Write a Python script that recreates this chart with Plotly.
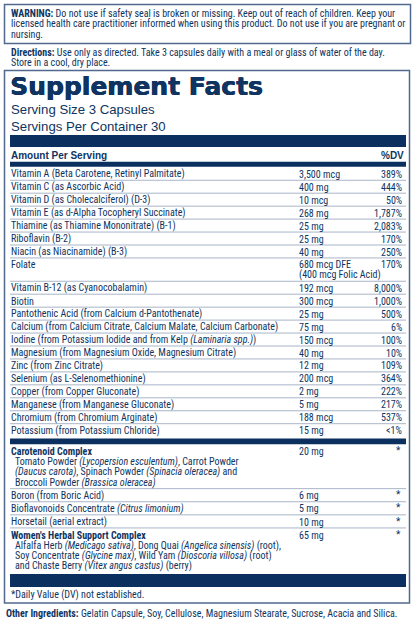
import plotly.graph_objects as go

W, H = 416, 622
NAVY = "#0f3461"
BAR = "#0b3060"
BORDER = "#51698f"
RULE = "#a9b5c8"
NARROW = "Roboto Condensed, DejaVu Sans Condensed, sans-serif"
WIDE = "Liberation Sans, Arial, sans-serif"

# label text
warning_lines = [
    "<b>WARNING:</b> Do not use if safety seal is broken or missing. Keep out of reach of children. Keep your",
    "licensed health care practitioner informed when using this product. Do not use if you are pregnant or",
    "nursing.",
]
direction_lines = [
    "<b>Directions:</b> Use only as directed. Take 3 capsules daily with a meal or glass of water of the day.",
    "Store in a cool, dry place.",
]
title = "Supplement Facts"
serving_lines = ["Serving Size 3 Capsules", "Servings Per Container 30"]
header_left = "Amount Per Serving"
header_right = "%DV"

nutrients = [
    "Vitamin A (Beta Carotene, Retinyl Palmitate)",
    "Vitamin C (as Ascorbic Acid)",
    "Vitamin D (as Cholecalciferol) (D-3)",
    "Vitamin E (as d-Alpha Tocopheryl Succinate)",
    "Thiamine (as Thiamine Mononitrate) (B-1)",
    "Riboflavin (B-2)",
    "Niacin (as Niacinamide) (B-3)",
    "Folate",
    "Vitamin B-12 (as Cyanocobalamin)",
    "Biotin",
    "Pantothenic Acid (from Calcium d-Pantothenate)",
    "Calcium (from Calcium Citrate, Calcium Malate, Calcium Carbonate)",
    "Iodine (from Potassium Iodide and from Kelp <i>(Laminaria spp.)</i>)",
    "Magnesium (from Magnesium Oxide, Magnesium Citrate)",
    "Zinc (from Zinc Citrate)",
    "Selenium (as L-Selenomethionine)",
    "Copper (from Copper Gluconate)",
    "Manganese (from Manganese Gluconate)",
    "Chromium (from Chromium Arginate)",
    "Potassium (from Potassium Chloride)",
]
amounts = [
    "3,500 mcg", "400 mg", "10 mcg", "268 mg", "25 mg", "25 mg", "40 mg",
    "680 mcg DFE\n(400 mcg Folic Acid)", "192 mcg", "300 mcg", "25 mg", "75 mg",
    "150 mcg", "40 mg", "12 mg", "200 mcg", "2 mg", "5 mg", "188 mcg", "15 mg",
]
dvs = [
    "389%", "444%", "50%", "1,787%", "2,083%", "170%", "250%", "170%", "8,000%",
    "1,000%", "500%", "6%", "100%", "10%", "109%", "364%", "222%", "217%", "537%", "<1%",
]

blend_names = [
    "<b>Carotenoid Complex</b>",
    "Boron (from Boric Acid)",
    "Bioflavonoids Concentrate <i>(Citrus limonium)</i>",
    "Horsetail (aerial extract)",
    "<b>Women's Herbal Support Complex</b>",
]
blend_details = [
    [
        "Tomato Powder <i>(Lycopersion esculentum)</i>, Carrot Powder",
        "<i>(Daucus carota)</i>, Spinach Powder <i>(Spinacia oleracea)</i> and",
        "Broccoli Powder <i>(Brassica oleracea)</i>",
    ],
    [],
    [],
    [],
    [
        "Alfalfa Herb <i>(Medicago sativa)</i>, Dong Quai <i>(Angelica sinensis)</i> (root),",
        "Soy Concentrate <i>(Glycine max)</i>, Wild Yam <i>(Dioscoria villosa)</i> (root)",
        "and Chaste Berry <i>(Vitex angus castus)</i> (berry)",
    ],
]
blend_amounts = ["20 mg", "6 mg", "5 mg", "10 mg", "65 mg"]
blend_dvs = ["*", "*", "*", "*", "*"]

footnote = "*Daily Value (DV) not established."
other_ingredients = ("<b>Other Ingredients:</b> Gelatin Capsule, Soy, Cellulose, "
                     "Magnesium Stearate, Sucrose, Acacia and Silica.")

X_NAME, X_SUB, X_AMT, X_DV = 10, 14, 298, 403
BAR_X0, BAR_X1 = 10, 406

fig = go.Figure()
annotations = []
shapes = []


def add_text(x, y, text, size=10, family=NARROW, anchor="left", weight=None, shadow=None):
    font = dict(family=family, size=size, color=NAVY)
    if weight:
        font["weight"] = weight
    if shadow:
        font["shadow"] = shadow
    annotations.append(dict(x=x, y=y, xref="x", yref="y", text=text, showarrow=False,
                            xanchor=anchor, yanchor="middle", borderpad=0, font=font))


def add_rect(x0, y0, x1, y1, fill=None, line=None, width=0):
    shapes.append(dict(type="rect", xref="x", yref="y", x0=x0, y0=y0, x1=x1, y1=y1,
                       fillcolor=fill or "rgba(0,0,0,0)",
                       line=dict(color=line or "rgba(0,0,0,0)", width=width), layer="above"))


def add_rule(y):
    shapes.append(dict(type="line", xref="x", yref="y", x0=BAR_X0, x1=BAR_X1, y0=y, y1=y,
                       line=dict(color=RULE, width=1)))


# warning + directions
add_rect(4.5, 4.5, 410.5, 43.5, line=BORDER, width=1.5)
for i, line in enumerate(warning_lines):
    add_text(X_NAME, 13 + i * 10.5, line)
for i, line in enumerate(direction_lines):
    add_text(X_NAME, 52 + i * 10.5, line)

# facts panel
add_rect(4.5, 70.5, 409.5, 603, line=BORDER, width=1.5)
add_text(X_NAME - 1, 86, title, size=25, family="DejaVu Sans", weight=900,
         shadow="0.6px 0 0 %s, 0 0.4px 0 %s" % (NAVY, NAVY))
for i, line in enumerate(serving_lines):
    add_text(X_NAME, 109 + i * 17, line, size=13.2, family=WIDE)
add_rect(BAR_X0, 135, BAR_X1, 147, fill=BAR)
add_text(X_NAME, 155, "<b>" + header_left + "</b>", size=10, family=WIDE)
add_text(405, 155, "<b>" + header_right + "</b>", size=10, family=WIDE, anchor="right")
add_rect(BAR_X0, 161.7, BAR_X1, 166.7, fill=BAR)

ROW, SUB, OFF = 12.95, 10.35, 7.0
top = 167.3
for i, (name, amt, dv) in enumerate(zip(nutrients, amounts, dvs)):
    amt_lines = amt.split("\n")
    add_text(X_NAME, top + OFF, name)
    for j, a in enumerate(amt_lines):
        add_text(X_AMT, top + OFF + j * SUB, a)
    add_text(X_DV, top + OFF, dv, anchor="right")
    top += ROW + SUB * (len(amt_lines) - 1)
    if i < len(nutrients) - 1:
        add_rule(top)

add_rect(BAR_X0, 438.5, BAR_X1, 444.2, fill=BAR)

ROW2, OFF2 = 13.1, 7.2
top = 444.5
for i, (name, subs, amt, dv) in enumerate(zip(blend_names, blend_details, blend_amounts, blend_dvs)):
    add_text(X_NAME, top + OFF2, name)
    for j, s in enumerate(subs):
        add_text(X_SUB, top + OFF2 + (j + 1) * SUB, s)
    add_text(X_AMT, top + OFF2, amt)
    add_text(X_DV - 1, top + OFF2 - 1, dv, anchor="right")
    top += ROW2 + SUB * len(subs)
    if i < len(blend_names) - 1:
        add_rule(top)

add_rect(BAR_X0, 574, BAR_X1, 587, fill=BAR)
add_text(X_NAME, 595, footnote)
add_text(5, 613, other_ingredients)

fig.update_layout(
    width=W, height=H,
    margin=dict(l=0, r=0, t=0, b=0),
    paper_bgcolor="white", plot_bgcolor="white",
    xaxis=dict(range=[0, W], visible=False, fixedrange=True),
    yaxis=dict(range=[H, 0], visible=False, fixedrange=True),
    shapes=shapes, annotations=annotations,
    showlegend=False,
)
fig.write_html("out.html", config={"displayModeBar": False},
               post_script="document.body.style.margin='0';document.body.style.overflow='hidden';")
